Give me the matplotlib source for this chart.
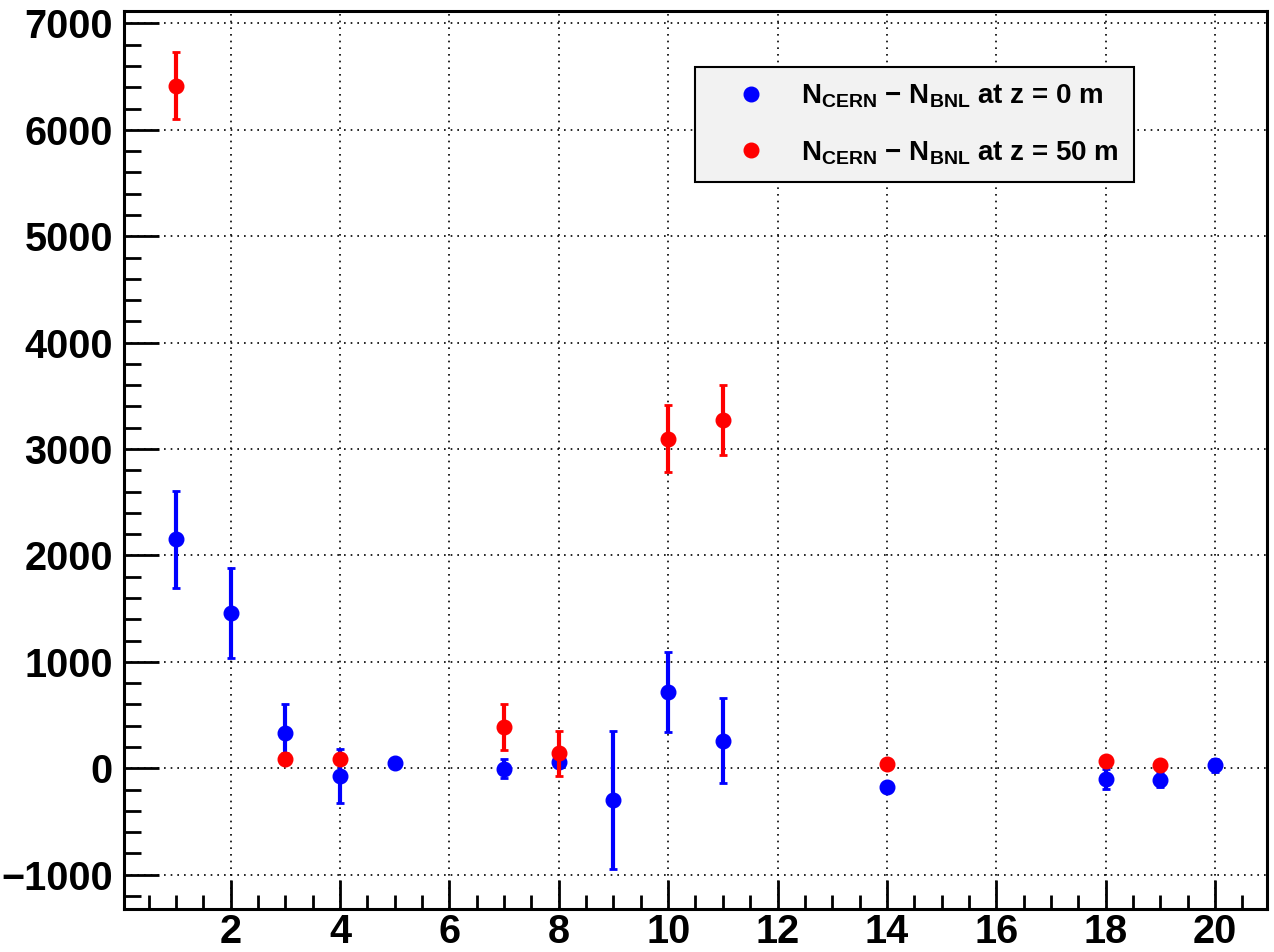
import matplotlib
matplotlib.use("Agg")
import matplotlib.pyplot as plt
from matplotlib.lines import Line2D
from matplotlib.ticker import MultipleLocator

plt.rcParams['font.family'] = ['Liberation Sans', 'DejaVu Sans']
plt.rcParams['font.weight'] = 'bold'
plt.rcParams['mathtext.fontset'] = 'custom'
plt.rcParams['mathtext.rm'] = 'Liberation Sans:bold'
plt.rcParams['mathtext.bf'] = 'Liberation Sans:bold'
plt.rcParams['mathtext.it'] = 'Liberation Sans:bold'

# N_CERN - N_BNL at z = 0 m
x0 = [1, 2, 3, 4, 5, 7, 8, 9, 10, 11, 14, 18, 19, 20]
y0 = [2150, 1460, 335, -72, 45, -5, 54, -298, 717, 260, -179, -103, -106, 28]
e0 = [460, 420, 265, 255, 30, 90, 40, 645, 380, 400, 30, 95, 70, 60]

# N_CERN - N_BNL at z = 50 m
x50 = [1, 3, 4, 7, 8, 10, 11, 14, 18, 19]
y50 = [6413, 91, 88, 385, 141, 3098, 3271, 38, 66, 31]
e50 = [315, 50, 30, 215, 210, 315, 330, 20, 30, 20]

labels = [r"$\mathrm{N_{CERN}}$ $-$ $\mathrm{N_{BNL}}$ at z = 0 m",
          r"$\mathrm{N_{CERN}}$ $-$ $\mathrm{N_{BNL}}$ at z = 50 m"]

fig = plt.figure(figsize=(12.74, 9.52), dpi=100)
ax = fig.add_axes([0.0973, 0.0455, 0.8972, 0.9433])

ax.errorbar(x0, y0, yerr=e0, fmt='o', color='#0000ff', ms=10.5, elinewidth=3,
            capsize=3, capthick=2, zorder=3)
ax.errorbar(x50, y50, yerr=e50, fmt='o', color='#ff0000', ms=10.5, elinewidth=3,
            capsize=3, capthick=2, zorder=4)

ax.set_xlim(0.05, 20.95)
ax.set_ylim(-1320, 7120)
ax.xaxis.set_major_locator(MultipleLocator(2))
ax.xaxis.set_minor_locator(MultipleLocator(0.5))
ax.yaxis.set_major_locator(MultipleLocator(1000))
ax.yaxis.set_minor_locator(MultipleLocator(200))
ax.set_xticks(range(2, 21, 2))

ax.grid(True, which='major', color='black', linestyle=(0, (1, 3)), linewidth=1.2)
ax.tick_params(axis='both', which='both', direction='in', top=False, right=False,
               labelsize=28.5, width=2)
ax.tick_params(axis='y', which='major', length=25, pad=8)
ax.tick_params(axis='y', which='minor', length=12)
ax.tick_params(axis='x', which='major', length=21, pad=3)
ax.tick_params(axis='x', which='minor', length=10)
for lab in ax.get_xticklabels() + ax.get_yticklabels():
    lab.set_fontweight('bold')
for s in ax.spines.values():
    s.set_linewidth(2.2)

handles = [Line2D([], [], marker='o', ls='none', color='#0000ff', ms=10.5),
           Line2D([], [], marker='o', ls='none', color='#ff0000', ms=10.5)]
leg = ax.legend(handles, labels, loc='upper left', bbox_to_anchor=(0.4998, 0.937),
                fontsize=20, frameon=True, fancybox=False, facecolor='#f2f2f2',
                edgecolor='black', framealpha=1, borderpad=0.55, labelspacing=1.05,
                handletextpad=0.3, handlelength=2.95, borderaxespad=0)
leg.get_frame().set_linewidth(1.5)
for t in leg.get_texts():
    t.set_fontweight('bold')

fig.savefig("out.png", dpi=100)
